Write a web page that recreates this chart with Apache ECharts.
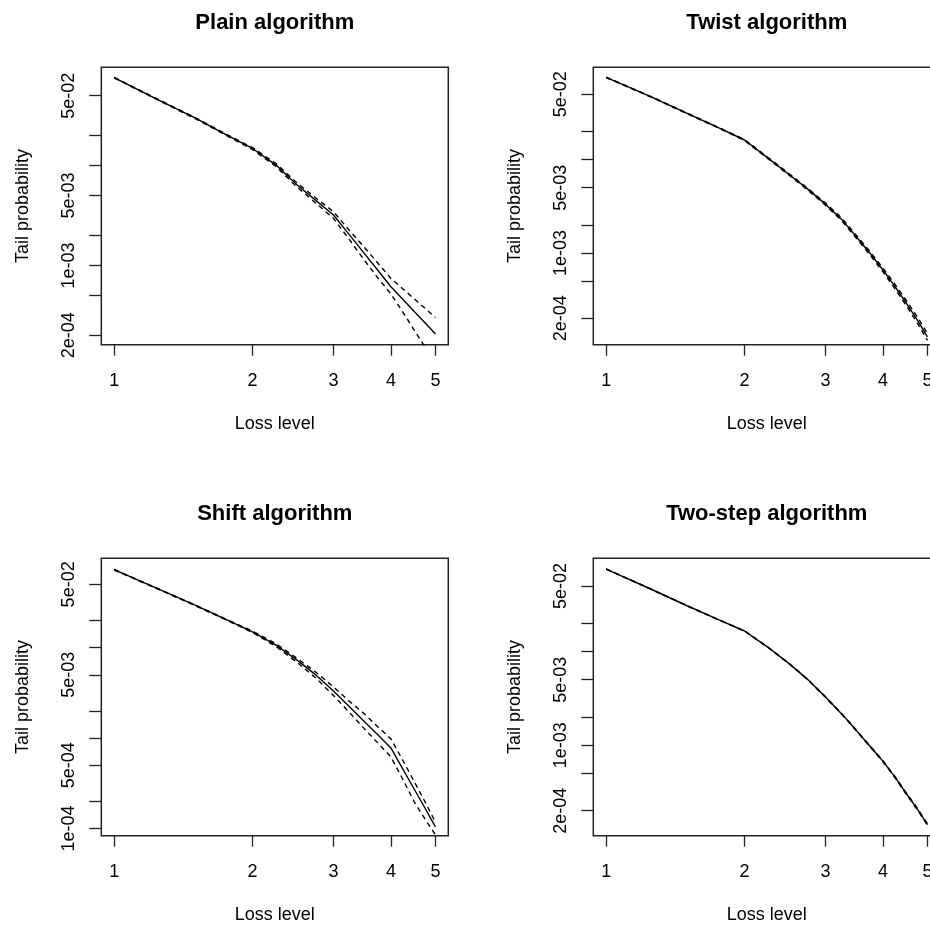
<!DOCTYPE html>
<html>
<head>
<meta charset="utf-8">
<style>
html,body{margin:0;padding:0;background:#fff;}
#main{width:930px;height:931px;}
</style>
</head>
<body>
<div id="main"></div>
<script src="https://cdn.jsdelivr.net/npm/echarts@6/dist/echarts.min.js"></script>
<script>
// loss levels, shared by the four panels
var lossLevel = [1, 1.25, 1.5, 1.75, 2, 2.25, 2.5, 2.75, 3, 3.25, 3.5, 3.75, 4, 4.25, 4.5, 4.75, 5];

// Plain algorithm: estimate and the two dashed bounds
var plainEst = [0.0757, 0.0452, 0.0299, 0.0204, 0.0148, 0.0101, 0.00638, 0.00445, 0.00320, 0.00202, 0.00132, 0.000889, 0.000612, 0.000456, 0.000344, 0.000265, 0.000206];
var plainUp  = [0.0762, 0.0456, 0.0302, 0.0207, 0.0151, 0.01047, 0.00668, 0.00471, 0.00345, 0.00224, 0.00152, 0.00105, 0.000741, 0.000581, 0.000461, 0.000371, 0.000301];
var plainLow = [0.0752, 0.0448, 0.0295, 0.0201, 0.01445, 0.00977, 0.00608, 0.00418, 0.00296, 0.00181, 0.00113, 0.000748, 0.000519, 0.000339, 0.000224, 0.000151, 0.000105];

// Twist algorithm
var twistEst = [0.0760, 0.0471, 0.0313, 0.0221, 0.0162, 0.01035, 0.00692, 0.00479, 0.00333, 0.00230, 0.00149, 0.000993, 0.000658, 0.000436, 0.000289, 0.000192, 0.000126];
var twistUp  = [0.0765, 0.0474, 0.0316, 0.0223, 0.0164, 0.01052, 0.00705, 0.00490, 0.00342, 0.00238, 0.00155, 0.001035, 0.000689, 0.000461, 0.000308, 0.000207, 0.000137];
var twistLow = [0.0755, 0.0468, 0.0310, 0.0219, 0.0160, 0.01019, 0.00679, 0.00468, 0.00324, 0.00223, 0.00144, 0.000953, 0.000628, 0.000412, 0.000271, 0.000178, 0.000116];

// Shift algorithm
var shiftEst = [0.0726, 0.0442, 0.0294, 0.0205, 0.01493, 0.01064, 0.00726, 0.00495, 0.00331, 0.00221, 0.00152, 0.001076, 0.000776, 0.000450, 0.000269, 0.000166, 0.000104];
var shiftUp  = [0.0731, 0.0445, 0.0296, 0.0207, 0.01521, 0.01102, 0.00760, 0.00531, 0.00367, 0.00254, 0.00185, 0.001324, 0.000977, 0.000560, 0.000326, 0.000195, 0.000117];
var shiftLow = [0.0721, 0.0439, 0.0291, 0.0203, 0.01466, 0.01028, 0.00685, 0.00457, 0.00295, 0.00191, 0.001268, 0.000875, 0.000617, 0.000345, 0.000195, 0.0001256, 0.0000851];

// Two-step algorithm
var twoStepEst = [0.0759, 0.0465, 0.0308, 0.0220, 0.01656, 0.01109, 0.00743, 0.00498, 0.00327, 0.00217, 0.00144, 0.000973, 0.000675, 0.000456, 0.000303, 0.000209, 0.000142];
var twoStepUp  = [0.0761, 0.0466, 0.0309, 0.0221, 0.01663, 0.01114, 0.00747, 0.00501, 0.00330, 0.00219, 0.001456, 0.000985, 0.000684, 0.000463, 0.000308, 0.000213, 0.000145];
var twoStepLow = [0.0757, 0.0464, 0.0307, 0.0219, 0.01649, 0.01104, 0.00739, 0.00495, 0.00324, 0.00215, 0.001424, 0.000961, 0.000666, 0.000449, 0.000298, 0.000205, 0.000139];

// ticks
var xTicks = [1, 2, 3, 4, 5];
var yTicks = [0.05, 0.02, 0.01, 0.005, 0.002, 0.001, 0.0005, 0.0002];
var yLabels = [0.05, 0.005, 0.001, 0.0002];
var yTicksShift = [0.05, 0.02, 0.01, 0.005, 0.002, 0.001, 0.0005, 0.0002, 0.0001];
var yLabelsShift = [0.05, 0.005, 0.0005, 0.0001];

var titles = ['Plain algorithm', 'Twist algorithm', 'Shift algorithm', 'Two-step algorithm'];

var font = 'Liberation Sans, Arial, sans-serif';

var panels = [
    {est: plainEst, up: plainUp, low: plainLow, yMin: 1.61e-4, yMax: 0.0961, ticks: yTicks, labels: yLabels, left: 101.3, top: 67.3},
    {est: twistEst, up: twistUp, low: twistLow, yMin: 1.04e-4, yMax: 0.0973, ticks: yTicks, labels: yLabels, left: 593.3, top: 67.3},
    {est: shiftEst, up: shiftUp, low: shiftLow, yMin: 8.3e-5, yMax: 0.0971, ticks: yTicksShift, labels: yLabelsShift, left: 101.3, top: 558.3},
    {est: twoStepEst, up: twoStepUp, low: twoStepLow, yMin: 1.08e-4, yMax: 0.0989, ticks: yTicks, labels: yLabels, left: 593.3, top: 558.3}
];

function pairs(arr) {
    return lossLevel.map(function (x, i) { return [x, arr[i]]; });
}
function rExp(v) {
    // R style: 5e-02
    return Number(v).toExponential(0).replace(/e([+-])(\d)$/, 'e$10$2');
}

var option = {animation: false, backgroundColor: '#fff', title: [], grid: [], xAxis: [], yAxis: [], series: []};

panels.forEach(function (p, i) {
    option.title.push({
        text: titles[i], left: p.left + 173.5, top: p.top - 55, textAlign: 'center', padding: 0,
        textStyle: {fontFamily: font, fontSize: 22, fontWeight: 'bold', color: '#000'}
    });
    option.grid.push({
        left: p.left, top: p.top, width: 347, height: 277.4,
        outerBoundsMode: 'none', containLabel: false,
        show: true, borderColor: '#222', borderWidth: 1.5, backgroundColor: 'transparent'
    });
    option.xAxis.push({
        type: 'log', logBase: 10, gridIndex: i, min: 0.9377, max: 5.332,
        axisLine: {show: false},
        axisTick: {show: true, customValues: xTicks, length: 11, lineStyle: {color: '#222', width: 1.3}},
        axisLabel: {customValues: xTicks, margin: 27, fontSize: 18, fontFamily: font, color: '#000'},
        splitLine: {show: false},
        name: 'Loss level', nameLocation: 'middle', nameGap: 70,
        nameTextStyle: {fontSize: 18, fontFamily: font, color: '#000'}
    });
    option.yAxis.push({
        type: 'log', logBase: 10, gridIndex: i, min: p.yMin, max: p.yMax,
        axisLine: {show: false},
        axisTick: {show: true, customValues: p.ticks, length: 12, lineStyle: {color: '#222', width: 1.3}},
        axisLabel: {customValues: p.labels, rotate: 90, margin: 23, fontSize: 18, fontFamily: font, color: '#000', formatter: rExp},
        splitLine: {show: false},
        name: 'Tail probability', nameLocation: 'middle', nameGap: 69,
        nameTextStyle: {fontSize: 18, fontFamily: font, color: '#000'}
    });
    [['est', 'solid'], ['up', [5, 4]], ['low', [5, 4]]].forEach(function (s) {
        option.series.push({
            type: 'line', xAxisIndex: i, yAxisIndex: i, data: pairs(p[s[0]]),
            symbol: 'none', clip: true,
            lineStyle: {color: '#000', width: 1.4, type: s[1]}
        });
    });
});

var chart = echarts.init(document.getElementById('main'));
chart.setOption(option);
</script>
</body>
</html>
